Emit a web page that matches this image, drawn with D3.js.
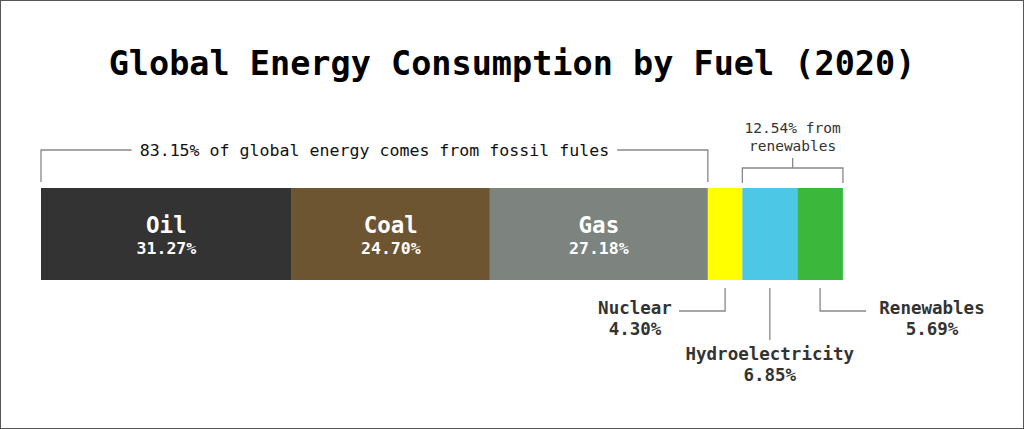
<!DOCTYPE html>
<html><head><meta charset="utf-8">
<script src="https://cdn.jsdelivr.net/npm/d3@7"></script>
<style>
html,body{margin:0;padding:0;background:#fff;}
svg{display:block;}
text{font-family:"DejaVu Sans Mono",monospace;}
</style></head>
<body><svg id="c" width="1024" height="429"></svg>
<script>
const fuels = ["Oil","Coal","Gas","Nuclear","Hydroelectricity","Renewables"];
const shares = [31.27,24.70,27.18,4.30,6.85,5.69];
const colors = ["#333333","#6e5532","#7d8480","#ffff00","#4cc8e6","#3bb83c"];
const inside = [true,true,true,false,false,false];
const title = "Global Energy Consumption by Fuel (2020)";
const fossilNote = "83.15% of global energy comes from fossil fules";
const renewNote = ["12.54% from","renewables"];

const svg = d3.select("#c");
svg.append("rect").attr("x",0.5).attr("y",0.5).attr("width",1023).attr("height",428)
  .attr("fill","#fff").attr("stroke","#555");

svg.append("text").attr("x",512).attr("y",75).attr("text-anchor","middle")
  .attr("font-size",33.5).attr("font-weight","bold").attr("fill","#000").text(title);

const x = d3.scaleLinear().domain([0,100]).range([41,843]);
const y0 = 188, y1 = 280;
let cum = 0;
const segs = shares.map((v,i)=>{const s={name:fuels[i],v,start:cum,end:cum+v,color:colors[i],inside:inside[i]};cum+=v;return s;});

svg.selectAll("rect.seg").data(segs).join("rect").attr("class","seg")
  .attr("x",d=>x(d.start)).attr("y",y0).attr("width",d=>x(d.end)-x(d.start)).attr("height",y1-y0)
  .attr("fill",d=>d.color);

const ins = segs.filter(d=>d.inside);
svg.selectAll("text.n").data(ins).join("text").attr("class","n")
  .attr("x",d=>(x(d.start)+x(d.end))/2).attr("y",233).attr("text-anchor","middle")
  .attr("font-size",22.5).attr("font-weight","bold").attr("fill","#fff").text(d=>d.name);
svg.selectAll("text.v").data(ins).join("text").attr("class","v")
  .attr("x",d=>(x(d.start)+x(d.end))/2).attr("y",254).attr("text-anchor","middle")
  .attr("font-size",16.5).attr("font-weight","bold").attr("fill","#fff").text(d=>d.v.toFixed(2)+"%");

const lc = "#888";
const line = (pts)=>svg.append("path").attr("d",d3.line()(pts)).attr("fill","none").attr("stroke",lc).attr("stroke-width",1.3);

// fossil bracket
const fx0 = x(0), fx1 = x(segs[2].end);
const ft = svg.append("text").attr("x",(fx0+fx1)/2).attr("y",156).attr("text-anchor","middle")
  .attr("font-size",16.6).attr("fill","#111").text(fossilNote);
const fb = ft.node().getBBox();
line([[fx0,182],[fx0,150],[fb.x-8,150]]);
line([[fb.x+fb.width+8,150],[fx1,150],[fx1,182]]);

// renewables bracket
const rx0 = x(segs[3].end), rx1 = x(segs[5].end), rc=(rx0+rx1)/2;
line([[rx0,183],[rx0,168],[rx1,168],[rx1,183]]);
line([[rc,168],[rc,158]]);
svg.append("text").attr("x",rc).attr("y",133).attr("text-anchor","middle").attr("font-size",14.5).attr("fill","#333").text(renewNote[0]);
svg.append("text").attr("x",rc).attr("y",151).attr("text-anchor","middle").attr("font-size",14.5).attr("fill","#333").text(renewNote[1]);

// outside labels
const mid = d=>(x(d.start)+x(d.end))/2;
const nuc = segs[3], hyd = segs[4], ren = segs[5];
line([[mid(nuc),288],[mid(nuc),311],[679,311]]);
line([[mid(hyd),288],[mid(hyd),340]]);
line([[mid(ren),288],[mid(ren),311],[866,311]]);

const outLab = [
  {d:nuc, x:635, y:314},
  {d:hyd, x:mid(hyd), y:360},
  {d:ren, x:932, y:314}
];
outLab.forEach(o=>{
  svg.append("text").attr("x",o.x).attr("y",o.y).attr("text-anchor","middle").attr("font-size",17.5).attr("font-weight","bold").attr("fill","#333").text(o.d.name);
  svg.append("text").attr("x",o.x).attr("y",o.y+21).attr("text-anchor","middle").attr("font-size",17.5).attr("font-weight","bold").attr("fill","#333").text(o.d.v.toFixed(2)+"%");
});
</script></body></html>
